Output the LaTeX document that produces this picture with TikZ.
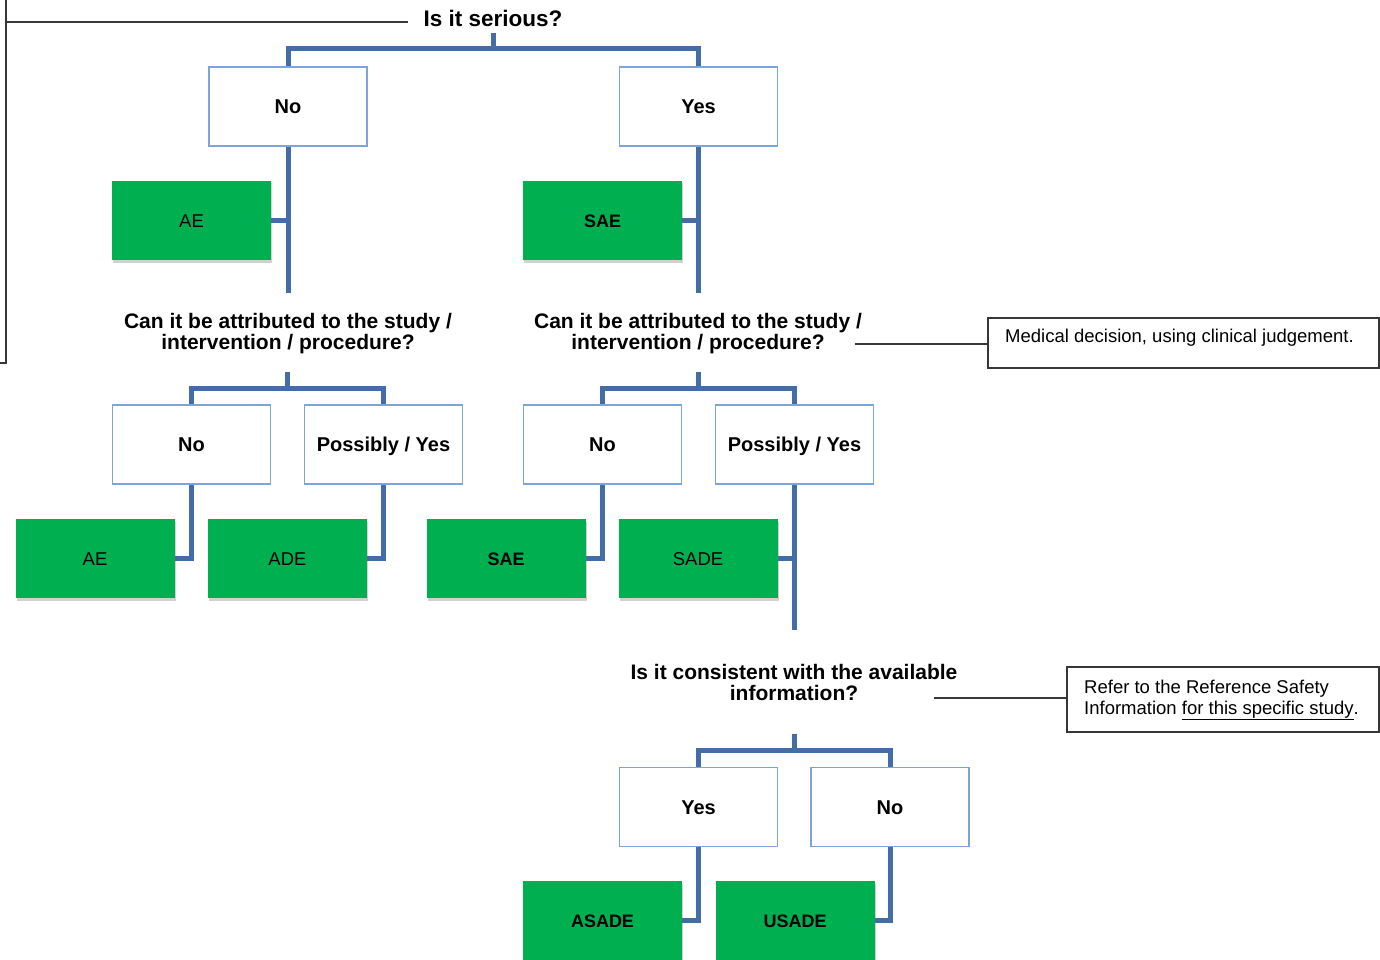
\documentclass[tikz,border=0pt]{standalone}
\usepackage{fontspec}
\setmainfont{Liberation Sans}
\usetikzlibrary{shadows}
\definecolor{gfill}{RGB}{0,176,80}
\definecolor{bbord}{RGB}{125,165,220}
\definecolor{conncol}{RGB}{68,108,165}
\definecolor{notecol}{RGB}{55,55,55}
\begin{document}
\begin{tikzpicture}[x=1pt,y=-1pt,
 wbox/.style={draw=bbord, line width=1.5pt, fill=white, minimum width=158pt, minimum height=79pt, inner sep=0pt, font=\fontsize{20}{24}\selectfont\bfseries, text height=14.3pt, text depth=0pt},
 gbox/.style={fill=gfill, minimum width=159pt, minimum height=79pt, inner sep=0pt, font=\fontsize{18.5}{22}\selectfont, text height=13.3pt, text depth=0pt, drop shadow={shadow xshift=1pt, shadow yshift=-2.5pt, opacity=0.18, fill=black}},
 gboxb/.style={gbox, font=\fontsize{18}{22}\selectfont\bfseries},
 quest/.style={font=\fontsize{21}{21}\selectfont\bfseries, align=center, inner sep=0pt},
 conn/.style={draw=conncol, line width=5pt},
 noteline/.style={draw=notecol, line width=1.3pt},
 notebox/.style={draw=notecol, line width=1.5pt, inner sep=0pt},
 notetext/.style={font=\fontsize{18.5}{21}\selectfont, inner sep=0pt, anchor=base west}
]
\useasboundingbox (0,0) rectangle (1380,960);
\fill[white] (0,0) rectangle (1380,960);

% title and left bracket
\node[font=\fontsize{22.5}{22.5}\selectfont\bfseries, anchor=base, inner sep=0pt] (t1) at (493,27) {Is it serious?};
\coordinate (lb) at (408,22);
\coordinate (lc) at (6,22);
\coordinate (ltop) at (6,-2);
\coordinate (lbot) at (6,363);
\coordinate (lend) at (-2,363);
\draw[noteline] (lb) -- (lc);
\draw[noteline] (ltop) -- (lbot) -- (lend);

% level 1
\node[wbox] (no1) at (288,106.5) {No};
\node[wbox] (yes1) at (698.5,106.5) {Yes};
\node[gbox] (ae1) at (191.5,220.5) {AE};
\node[gboxb] (sae1) at (602.5,220.5) {SAE};

% questions
\node[quest] (q2) at (288,334) {Can it be attributed to the study /\\intervention / procedure?};
\node[quest] (q3) at (698,334) {Can it be attributed to the study /\\intervention / procedure?};
\node[quest] (q4) at (794,682) {Is it consistent with the available\\information?};

% level 2
\node[wbox] (no2) at (191.5,444.5) {No};
\node[wbox] (pos2) at (383.5,444.5) {Possibly / Yes};
\node[wbox] (no3) at (602.5,444.5) {No};
\node[wbox] (pos3) at (794.5,444.5) {Possibly / Yes};
\node[gbox] (ae2) at (95,558.5) {AE};
\node[gbox] (ade2) at (287.5,558.5) {ADE};
\node[gboxb] (sae2) at (506,558.5) {SAE};
\node[gbox] (sade2) at (698,558.5) {SADE};

% level 3
\node[wbox] (yes4) at (698.5,807) {Yes};
\node[wbox] (no4) at (890,807) {No};
\node[gboxb] (asade) at (602.5,920.5) {ASADE};
\node[gboxb] (usade) at (795,920.5) {USADE};

% notes
\node[notebox, minimum width=391pt, minimum height=50pt, anchor=north west] (n1) at (987,317) {};
\node[notetext] (n1t) at (1005,342) {Medical decision, using clinical judgement.};
\node[notebox, minimum width=312pt, minimum height=65pt, anchor=north west] (n2) at (1066,666) {};
\node[notetext] (n2a) at (1084,693) {Refer to the Reference Safety};
\node[notetext] (n2b) at (1084,714) {Information \underline{for this specific study}.};
\coordinate (n1s) at (855,344);
\coordinate (n2s) at (934,698);
\draw[noteline] (n1s) -- (n1s -| n1.west);
\draw[noteline] (n2s) -- (n2s -| n2.west);

% connectors
\coordinate (j1) at (493,33);
\draw[conn] (j1) -- ++(0,16) -| (no1.north);
\draw[conn] (j1) -- ++(0,16) -| (yes1.north);
\coordinate (e1) at (288,293);
\coordinate (e2) at (698.5,293);
\draw[conn] (no1.south) -- (e1);
\draw[conn] (yes1.south) -- (e2);
\draw[conn] (ae1.east) -- (ae1.east -| no1.south);
\draw[conn] (sae1.east) -- (sae1.east -| yes1.south);

\coordinate (j2) at (287.5,372);
\coordinate (j3) at (698,372);
\draw[conn] (j2) -- ++(0,16) -| (no2.north);
\draw[conn] (j2) -- ++(0,16) -| (pos2.north);
\draw[conn] (j3) -- ++(0,16) -| (no3.north);
\draw[conn] (j3) -- ++(0,16) -| (pos3.north);
\draw[conn] (no2.south) |- (ae2.east);
\draw[conn] (pos2.south) |- (ade2.east);
\draw[conn] (no3.south) |- (sae2.east);
\coordinate (e3) at (794.5,630);
\draw[conn] (pos3.south) -- (e3);
\draw[conn] (sade2.east) -- (sade2.east -| pos3.south);

\coordinate (j4) at (794.5,734);
\draw[conn] (j4) -- ++(0,16) -| (yes4.north);
\draw[conn] (j4) -- ++(0,16) -| (no4.north);
\draw[conn] (yes4.south) |- (asade.east);
\draw[conn] (no4.south) |- (usade.east);
\end{tikzpicture}
\end{document}
